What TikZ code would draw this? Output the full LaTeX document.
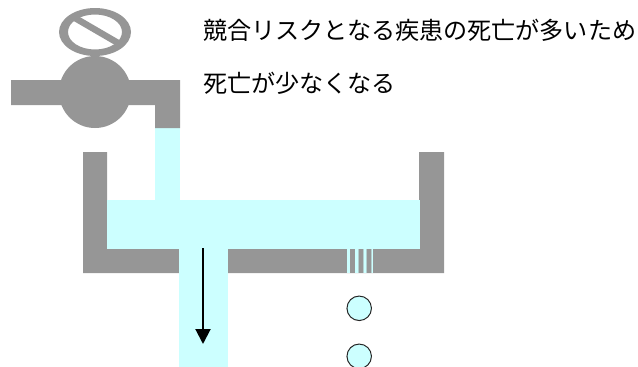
\documentclass[tikz,border=0pt]{standalone}
\usetikzlibrary{arrows.meta}
\usepackage{fontspec}
\newfontfamily\cjk{Noto Sans CJK JP}
\definecolor{wallgray}{HTML}{969696}
\definecolor{water}{HTML}{CCFFFF}
\tikzset{
  drop/.style={circle,draw=black!85,line width=1pt,fill=water,minimum size=24.5pt,inner sep=0pt},
  caption/.style={anchor=west,inner sep=0pt,font=\cjk\fontsize{24.1}{28}\selectfont,text=black}
}
\begin{document}
\begin{tikzpicture}[x=1pt,y=-1pt]
\useasboundingbox (0,0) rectangle (638,367);
% tank
\fill[wallgray] (83,152) -- (107,152) -- (107,249) -- (419,249) -- (419,152) -- (444,152) -- (444,273) -- (83,273) -- cycle;
\fill[water] (107,200) rectangle (420,249);
\fill[water] (155,128) rectangle (180,200);
\fill[water] (179,249) rectangle (228,367);
% stripes
\fill[water] (347,249) rectangle (372.5,273);
\foreach \x in {349.6,358,366.4}{
  \fill[wallgray!45!water] (\x,249) rectangle +(5.8,24);
  \fill[wallgray] (\x+0.8,249) rectangle +(4.2,24);
}
% pipe and valve
\fill[wallgray] (11,80) -- (180,80) -- (180,128) -- (155,128) -- (155,105) -- (11,105) -- cycle;
\fill[wallgray] (95,92) circle (36);
\fill[wallgray,even odd rule] (95,32) ellipse (36 and 24) (95,32) ellipse (27 and 17.5);
\draw[wallgray,line width=6.5pt] (75,18) -- (118,43);
% arrow
\coordinate (arrowstart) at (203,248);
\coordinate (arrowend) at (203,344);
\draw[line width=2pt,black,-{Triangle[width=15pt,length=15pt]}] (arrowstart) -- (arrowend);
% drops
\node[drop] (d1) at (359.2,308.3) {};
\node[drop] (d2) at (359.2,356.3) {};
% text
\node[caption] (t1) at (203,30) {競合リスクとなる疾患の死亡が多いため};
\node[caption] (t2) at (203,83) {死亡が少なくなる};
\end{tikzpicture}
\end{document}
